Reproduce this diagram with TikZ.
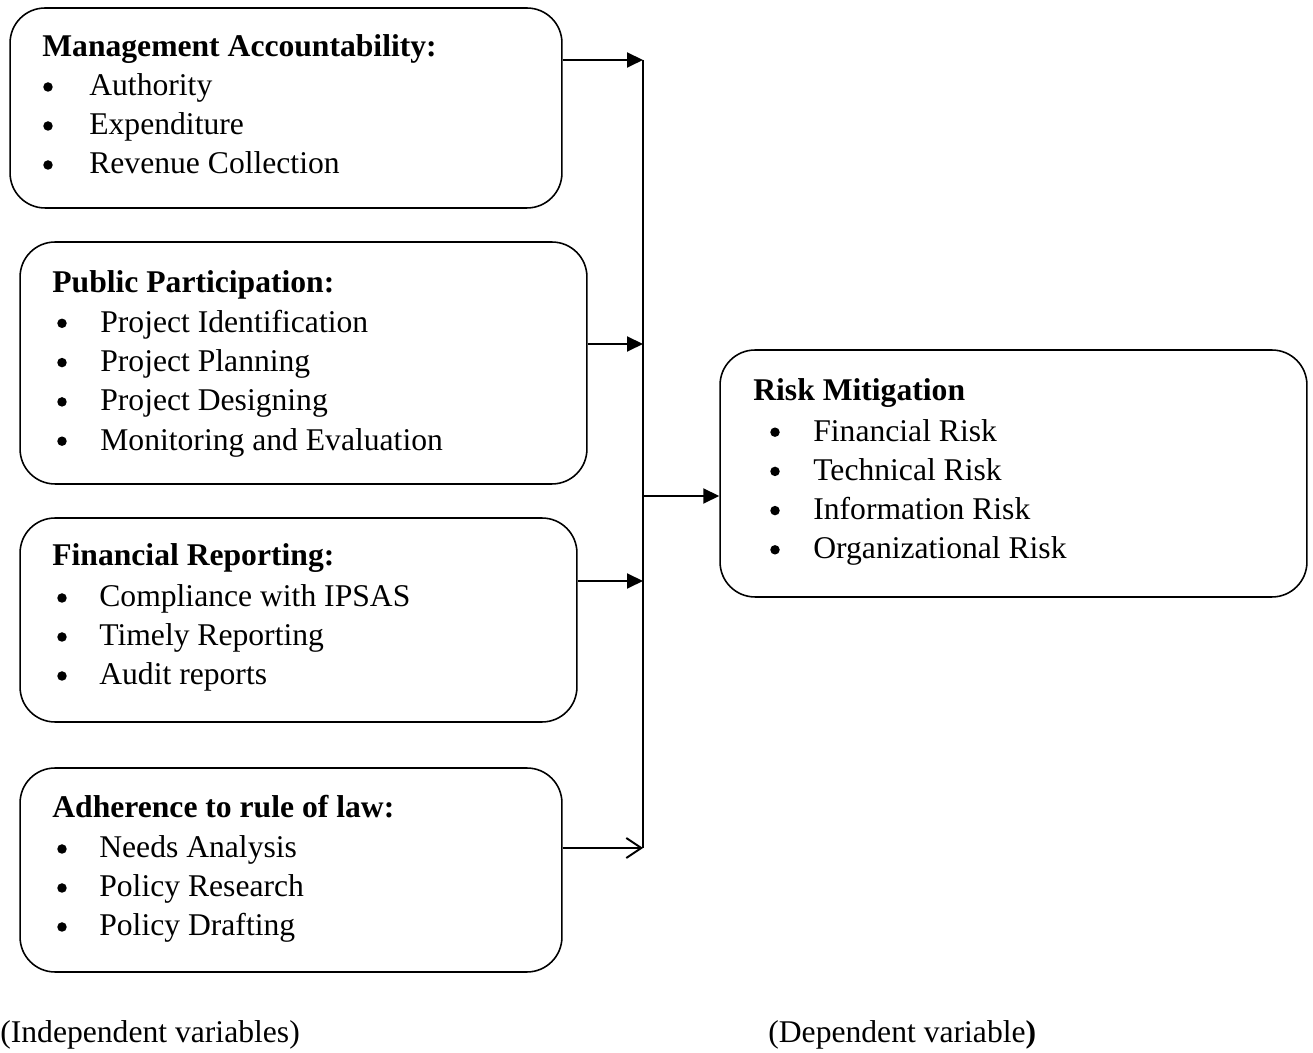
\documentclass[tikz,border=0pt]{standalone}
\usepackage{fontspec}
\setmainfont{Liberation Serif}
\usetikzlibrary{arrows.meta}
\newcommand{\txtsize}{\fontsize{18}{22}\selectfont}
\tikzset{
  varbox/.style={draw, line width=0.9pt, rounded corners=0.7cm, inner sep=0pt},
  head/.style={anchor=base west, inner sep=0pt, font=\txtsize\bfseries},
  itm/.style={anchor=base west, inner sep=0pt, font=\txtsize},
  bul/.style={circle, fill, inner sep=0pt, minimum size=0.19cm},
  bus/.style={line width=1.1pt},
  link/.style={-{Triangle[length=3.2mm,width=3mm]}, line width=1.1pt},
  openlink/.style={-{Straight Barb[length=3mm,width=4mm]}, line width=1.1pt},
}
\begin{document}
\begin{tikzpicture}[x=0.02cm,y=-0.02cm]
  \useasboundingbox (0,0) rectangle (1313,1053);
  % boxes
  \node[varbox, minimum width=11.04cm, minimum height=4cm] (ma) at (286,108) {};
  \node[varbox, minimum width=11.34cm, minimum height=4.84cm] (pp) at (303.5,363) {};
  \node[varbox, minimum width=11.14cm, minimum height=4.08cm] (fr) at (298.5,620) {};
  \node[varbox, minimum width=10.84cm, minimum height=4.08cm] (rl) at (291,870) {};
  \node[varbox, minimum width=11.74cm, minimum height=4.94cm] (rm) at (1013.5,473.5) {};

  % management accountability
  \node[head] (mah) at (42,57) {Management Accountability:};
  \foreach \t [count=\i] in {Authority,Expenditure,Revenue Collection} {
    \node[bul] (mab\i) at (48,{48+39*\i}) {};
    \node[itm] (mai\i) at (89,{57+39*\i}) {\t};
  }

  % public participation
  \node[head] (pph) at (52,293) {Public Participation:};
  \foreach \t [count=\i] in {Project Identification,Project Planning,Project Designing,Monitoring and Evaluation} {
    \node[bul] (ppb\i) at (62,{284+39.3*\i}) {};
    \node[itm] (ppi\i) at (100,{293+39.3*\i}) {\t};
  }

  % financial reporting
  \node[head] (frh) at (52,566) {Financial Reporting:};
  \foreach \t [count=\i] in {Compliance with IPSAS,Timely Reporting,Audit reports} {
    \node[bul] (frb\i) at (62,{559+39*\i}) {};
    \node[itm] (fri\i) at (99,{568+39*\i}) {\t};
  }

  % rule of law
  \node[head] (rlh) at (52,818) {Adherence to rule of law:};
  \foreach \t [count=\i] in {Needs Analysis,Policy Research,Policy Drafting} {
    \node[bul] (rlb\i) at (62,{810+39*\i}) {};
    \node[itm] (rli\i) at (99,{819+39*\i}) {\t};
  }

  % risk mitigation
  \node[head] (rmh) at (753,401) {Risk Mitigation};
  \foreach \t [count=\i] in {Financial Risk,Technical Risk,Information Risk,Organizational Risk} {
    \node[bul] (rmb\i) at (775,{393+39.2*\i}) {};
    \node[itm] (rmi\i) at (813,{402+39.2*\i}) {\t};
  }

  % bus and connectors
  \coordinate (b1) at (643,60);
  \coordinate (b2) at (643,344);
  \coordinate (b3) at (643,581);
  \coordinate (b4) at (643,848);
  \coordinate (bm) at (643,496);
  \draw[bus] (b1) -- (b4);
  \draw[link] (ma.east |- b1) -- (b1);
  \draw[link] (pp.east |- b2) -- (b2);
  \draw[link] (fr.east |- b3) -- (b3);
  \draw[openlink] (rl.east |- b4) -- (b4);
  \draw[link] (bm) -- (rm.west |- bm);

  % captions
  \node[itm] (indep) at (0,1043) {(Independent variables)};
  \node[itm] (dep) at (768,1043) {(Dependent variable\textbf{)}};
\end{tikzpicture}
\end{document}
